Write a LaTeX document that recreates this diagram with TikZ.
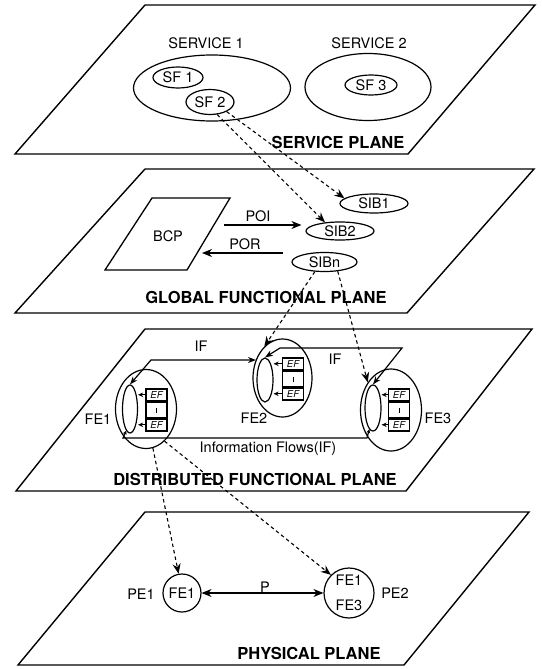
\documentclass[tikz,border=0pt]{standalone}
\usepackage{fontspec}
\setmainfont{TeX Gyre Heros}
\usetikzlibrary{shapes.geometric,arrows.meta}
\newcommand\EFstack[3]{%
  \node[efrow, minimum height=12pt, anchor=north] (#1a) at (#2,#3) {EF};
  \node[efrow, minimum height=15pt, anchor=north] (#1b) at (#1a.south) {};
  \node[efrow, minimum height=12pt, anchor=north] (#1c) at (#1b.south) {EF};
  \draw[line width=1pt] ([yshift=-3pt]#1b.center) -- ([yshift=2pt]#1b.center);
}
\begin{document}
\begin{tikzpicture}[x=1pt,y=-1pt,
  plane/.style={draw, line width=1.4pt, line join=miter},
  ell/.style={draw, ellipse, line width=1.2pt, inner sep=0pt, font=\fontsize{14.5}{16}\selectfont},
  circ/.style={draw, circle, line width=1.2pt, inner sep=0pt, font=\fontsize{14.5}{16}\selectfont},
  lab/.style={inner sep=0pt, font=\fontsize{14.5}{16}\selectfont},
  plab/.style={inner sep=0pt, font=\fontsize{16.5}{18}\selectfont\bfseries},
  dflow/.style={line width=1.1pt, dash pattern=on 3.5pt off 3pt, -{Stealth[length=10pt,width=8pt]}},
  sflow/.style={line width=1.2pt, -{Stealth[length=10pt,width=8pt]}},
  bflow/.style={line width=1.2pt, {Stealth[length=10pt,width=8pt]}-{Stealth[length=10pt,width=8pt]}},
  ifl/.style={line width=1.2pt, {Stealth[length=8pt,width=6pt]}-{Stealth[length=8pt,width=6pt]}},
  ifs/.style={line width=1.2pt, {Stealth[length=4pt,width=4pt]}-{Stealth[length=4pt,width=4pt]}},
  efrow/.style={draw, line width=1.5pt, minimum width=21pt, inner sep=0pt, font=\fontsize{9.5}{10}\selectfont\itshape},
  tinyarr/.style={line width=0.9pt, -{Stealth[length=5pt,width=4.5pt]}},
]
\useasboundingbox (0,0) rectangle (541,669);

% planes
\draw[plane] (145,5) -- (535,5) -- (408,154) -- (15,154) -- cycle;
\draw[plane] (145,169) -- (534,169) -- (407,313) -- (15,313) -- cycle;
\draw[plane] (145,329) -- (532,329) -- (406,491) -- (16,491) -- cycle;
\draw[plane] (145,512) -- (529,512) -- (404,665) -- (18,665) -- cycle;

% service plane
\node[lab] (s1lab) at (206,43) {SERVICE 1};
\node[lab] (s2lab) at (369,43) {SERVICE 2};
\node[ell, minimum width=157pt, minimum height=66pt] (svc1) at (212,88) {};
\node[ell, minimum width=126pt, minimum height=67pt] (svc2) at (368,87) {};
\node[ell, minimum width=50pt, minimum height=21pt] (sf1) at (178,77.5) {SF 1};
\node[ell, minimum width=48pt, minimum height=25pt] (sf2) at (210,102) {SF 2};
\node[ell, minimum width=52pt, minimum height=20pt] (sf3) at (371,85) {SF 3};
\node[plab] (splab) at (338,142) {SERVICE PLANE};

% global functional plane
\draw[line width=1.3pt, line join=miter] (152,198) -- (230,198) -- (187,270) -- (105,270) -- cycle;
\node[lab] (bcp) at (168,236) {BCP};
\node[ell, minimum width=68pt, minimum height=19pt] (sib1) at (374,203.5) {SIB1};
\node[ell, minimum width=68pt, minimum height=18pt] (sib2) at (340,231) {SIB2};
\node[ell, minimum width=65pt, minimum height=19pt] (sibn) at (324.5,262) {SIBn};
\coordinate (poiS) at (224,225);
\coordinate (porS) at (283,253);
\coordinate (porE) at (202,253);
\draw[sflow, shorten >=4pt] (poiS) -- (poiS -| sib2.west);
\node[lab] (poi) at (258,216) {POI};
\draw[sflow] (porS) -- (porE);
\node[lab] (por) at (245,244) {POR};
\node[plab] (gfplab) at (266,297) {GLOBAL FUNCTIONAL PLANE};

% distributed functional plane
\node[ell, minimum width=61pt, minimum height=79pt] (fe1) at (146,409) {};
\node[ell, minimum width=15pt, minimum height=48pt] (in1) at (130,409) {};
\EFstack{fa}{156.5}{388}
\node[ell, minimum width=59pt, minimum height=78pt] (fe2) at (282.5,378) {};
\node[ell, minimum width=16pt, minimum height=44pt] (in2) at (265,380) {};
\EFstack{fb}{293}{357}
\node[ell, minimum width=61pt, minimum height=82pt] (fe3) at (391,410) {};
\node[ell, minimum width=16pt, minimum height=46pt] (in3) at (373,408) {};
\EFstack{fc}{399}{388}

\draw[tinyarr] (faa.west) -- (faa.west -| in1.east);
\draw[tinyarr] (fac.west) -- (fac.west -| in1.east);
\draw[tinyarr] (fba.west) -- (fba.west -| in2.east);
\draw[tinyarr] (fbc.west) -- (fbc.west -| in2.east);
\draw[tinyarr] (fca.west) -- (fca.west -| in3.east);
\draw[tinyarr] (fcc.west) -- (fcc.west -| in3.east);

\coordinate (ifA1) at (151,360);
\coordinate (ifA2) at (256,360);
\draw[ifl] (in1.north) -- (ifA1) -- (ifA2);
\coordinate (ifB1) at (280,348);
\coordinate (ifB2) at (402,348);
\draw[ifl] (in2.north) -- (ifB1) -- (ifB2) -- (in3.north);
\coordinate (ifC1) at (367,438);
\coordinate (ifC2) at (123,438);
\draw[ifs] (in3.-100) -- (ifC1) -- (ifC2) -- (in1.-100);

\node[lab] (ifl1) at (201,346) {IF};
\node[lab] (ifl2) at (335,359) {IF};
\node[lab] (fe1l) at (98,419) {FE1};
\node[lab] (fe2l) at (254,418) {FE2};
\node[lab] (fe3l) at (438,418) {FE3};
\node[lab] (iflab) at (268,449) {Information Flows(IF)};
\node[plab] (dfplab) at (255,479) {DISTRIBUTED FUNCTIONAL PLANE};

% physical plane
\node[circ, minimum size=38pt] (pe1) at (182,593) {FE1};
\node[circ, minimum size=50pt, align=center, font=\fontsize{14.5}{25}\selectfont] (pe2) at (349,593) {FE1\\FE3};
\node[lab] (pe1l) at (141,594) {PE1};
\node[lab] (pe2l) at (395,593) {PE2};
\draw[bflow] (pe1.east) -- (pe1.east -| pe2.west);
\node[lab] (pl) at (265,587) {P};
\node[plab] (pplab) at (309,653) {PHYSICAL PLANE};

% dashed mappings
\draw[dflow] (sf2.-60) -- (sib2.150);
\draw[dflow] (sf2.-30) -- (sib1.170);
\draw[dflow] (sibn.-135) -- (fe2.120);
\draw[dflow] (sibn.-35) -- (fe3.130);
\draw[dflow] (fe1.-80) -- (pe1.100);
\draw[dflow] (fe1.-60) -- (pe2.135);
\end{tikzpicture}
\end{document}
